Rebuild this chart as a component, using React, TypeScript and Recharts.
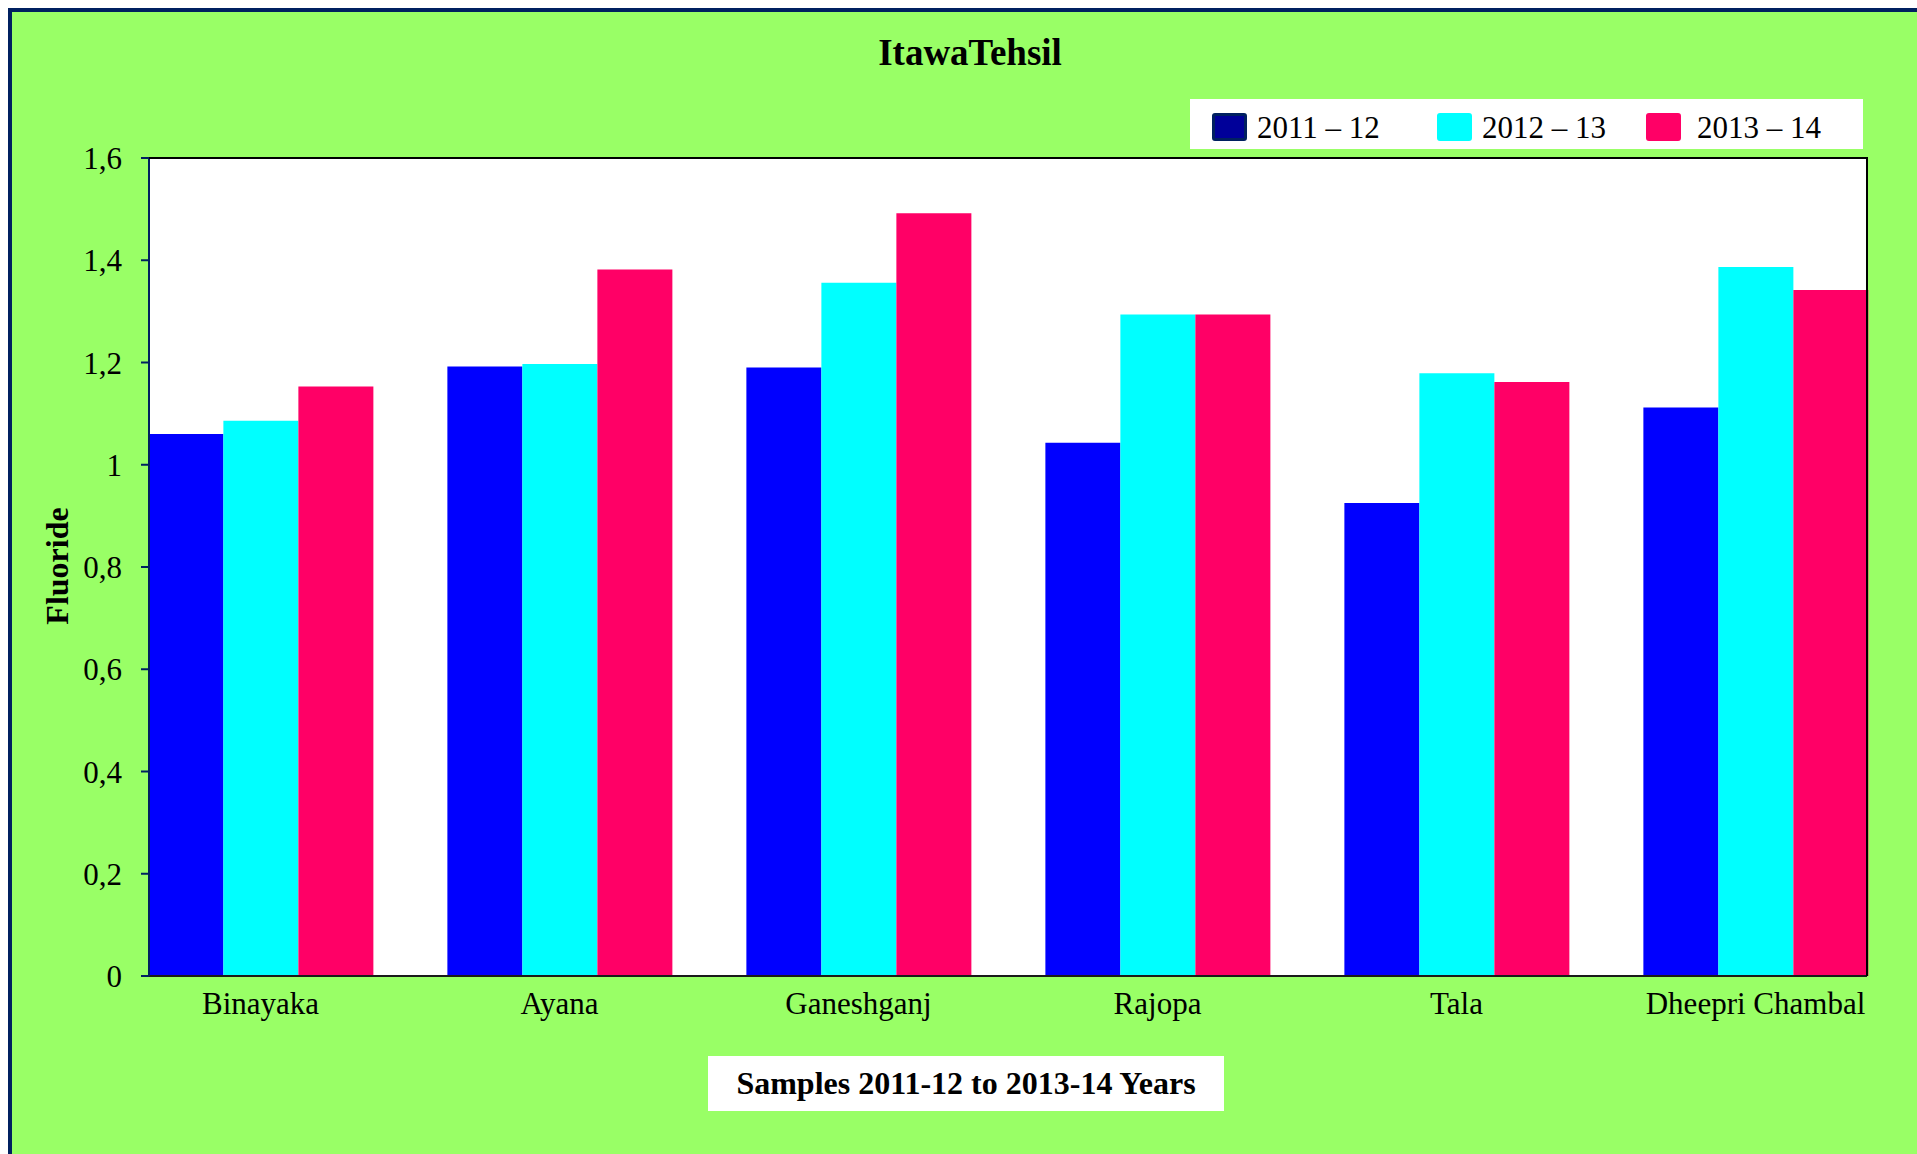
import { Bar, BarChart, CartesianGrid, Legend, XAxis, YAxis } from 'recharts';

const places = ['Binayaka', 'Ayana', 'Ganeshganj', 'Rajopa', 'Tala', 'Dheepri Chambal'];
const y2011 = [1.06, 1.192, 1.19, 1.043, 0.925, 1.112];
const y2012 = [1.086, 1.197, 1.356, 1.294, 1.179, 1.387];
const y2013 = [1.153, 1.382, 1.492, 1.294, 1.162, 1.342];
const yTicks = [0, 0.2, 0.4, 0.6, 0.8, 1, 1.2, 1.4, 1.6];

const series = [
  { key: 's1', label: '2011 – 12', cor: '#0000FF', swatch: '#000099', border: '#002060' },
  { key: 's2', label: '2012 – 13', cor: '#00FFFF', swatch: '#00FFFF', border: '#00FFFF' },
  { key: 's3', label: '2013 – 14', cor: '#FF0066', swatch: '#FF0066', border: '#FF0066' },
];

const data = places.map((name, i) => ({ name, s1: y2011[i], s2: y2012[i], s3: y2013[i] }));

const FONT = '"Liberation Serif", "Times New Roman", serif';
const itemWidths = [225, 209, 200];
const swatchGaps = [10, 10, 16];

function LegendBox() {
  return (
    <div
      style={{
        width: 673,
        height: 50,
        background: '#fff',
        display: 'flex',
        alignItems: 'center',
        paddingLeft: 22,
        paddingTop: 6,
        boxSizing: 'border-box',
        fontFamily: FONT,
        fontSize: 31,
        color: '#000',
      }}
    >
      {series.map((s, i) => (
        <div key={s.key} style={{ width: itemWidths[i], display: 'flex', alignItems: 'center' }}>
          <span
            style={{
              width: 35,
              height: 28,
              background: s.swatch,
              border: `3px solid ${s.border}`,
              borderRadius: 3,
              boxSizing: 'border-box',
              marginRight: swatchGaps[i],
            }}
          />
          <span style={{ fontFamily: FONT, lineHeight: 1 }}>{s.label}</span>
        </div>
      ))}
    </div>
  );
}

export default function App() {
  return (
    <div style={{ padding: '8px 0 0 8px', background: '#fff' }}>
      <style>{'html,body{margin:0;overflow:hidden}'}</style>
      <div
        style={{
          position: 'relative',
          width: 1909,
          height: 1146,
          background: '#99FF66',
          boxShadow: 'inset 4px 4px 0 #002060',
        }}
      >
        <BarChart
          width={1909}
          height={1146}
          data={data}
          margin={{ top: 150, right: 50, left: 41, bottom: 118 }}
          barCategoryGap="12.5%"
          barGap={0}
        >
          <CartesianGrid fill="#fff" horizontal={false} vertical={false} />
          <XAxis
            dataKey="name"
            height={60}
            padding={{ left: -38, right: -38 }}
            tickLine={false}
            tickSize={0}
            tickMargin={16}
            axisLine={{ stroke: '#1a1a1a', strokeWidth: 2 }}
            tick={{ fill: '#000', fontSize: 31, fontFamily: FONT }}
            interval={0}
          />
          <YAxis
            width={100}
            domain={[0, 1.6]}
            ticks={yTicks}
            tickSize={8}
            tickMargin={19}
            axisLine={{ stroke: '#002060', strokeWidth: 2 }}
            tickLine={{ stroke: '#002060', strokeWidth: 2 }}
            tick={{ fill: '#000', fontSize: 31, fontFamily: FONT }}
            tickFormatter={(v: number) => String(v).replace('.', ',')}
          />
          <Legend
            layout="horizontal"
            align="center"
            verticalAlign="middle"
            wrapperStyle={{ left: 1182, top: 91, width: 673, height: 50 }}
            content={() => <LegendBox />}
          />
          {series.map((s) => (
            <Bar key={s.key} dataKey={s.key} name={s.label} fill={s.cor} isAnimationActive={false} />
          ))}
        </BarChart>

        {/* plot frame top/right */}
        <div
          style={{
            position: 'absolute',
            left: 141,
            top: 149,
            width: 1719,
            height: 819,
            borderTop: '2px solid #000',
            borderRight: '2px solid #000',
            boxSizing: 'border-box',
            pointerEvents: 'none',
          }}
        />

        <div
          style={{
            position: 'absolute',
            left: 962,
            top: 26,
            transform: 'translateX(-50%)',
            fontFamily: FONT,
            fontWeight: 'bold',
            fontSize: 37,
            lineHeight: 1,
            whiteSpace: 'nowrap',
          }}
        >
          ItawaTehsil
        </div>

        <div
          style={{
            position: 'absolute',
            left: 49,
            top: 558,
            transform: 'translate(-50%, -50%) rotate(-90deg)',
            fontFamily: FONT,
            fontWeight: 'bold',
            fontSize: 32,
            lineHeight: 1,
            whiteSpace: 'nowrap',
          }}
        >
          Fluoride
        </div>

        <div
          style={{
            position: 'absolute',
            left: 700,
            top: 1048,
            width: 516,
            height: 55,
            background: '#fff',
            display: 'flex',
            alignItems: 'center',
            justifyContent: 'center',
            fontFamily: FONT,
            fontWeight: 'bold',
            fontSize: 32,
            whiteSpace: 'nowrap',
          }}
        >
          Samples 2011-12 to 2013-14 Years
        </div>
      </div>
    </div>
  );
}
